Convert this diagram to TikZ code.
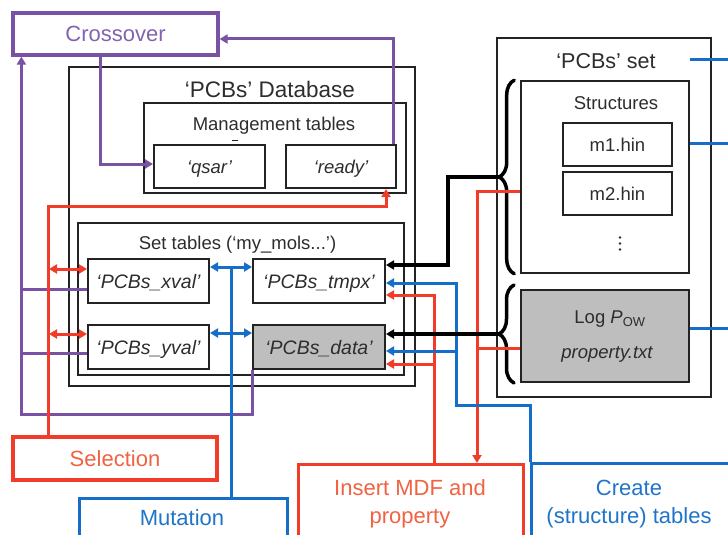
\documentclass[tikz,border=0pt]{standalone}
\usepackage{fontspec}
\setmainfont{Liberation Sans}
\usepackage{tikz}
\usetikzlibrary{arrows.meta}
\usetikzlibrary{decorations.pathreplacing}
\definecolor{purpleline}{RGB}{122,82,163}
\definecolor{purpletext}{RGB}{130,98,178}
\definecolor{redline}{RGB}{240,60,40}
\definecolor{redtext}{RGB}{240,98,66}
\definecolor{blueline}{RGB}{22,110,200}
\definecolor{bluetext}{RGB}{32,116,200}
\definecolor{boxline}{RGB}{35,35,35}
\definecolor{inkgray}{RGB}{45,45,45}
\definecolor{tablegray}{RGB}{190,190,190}
\newcommand{\procfont}{\fontsize{22}{28}\selectfont}
\newcommand{\tblfont}{\fontsize{19.5}{23}\selectfont}
\newcommand{\labfont}{\fontsize{18.5}{22}\selectfont}

\begin{document}
\begin{tikzpicture}[x=1pt, y=-1pt,
    >={Triangle[length=8pt,width=9pt]},
    box/.style={draw=boxline, line width=1.6pt, inner sep=0pt},
    tbl/.style={box, line width=2pt, text=inkgray, text height=14pt, text depth=0pt, font=\tblfont\itshape},
    proc/.style={line width=3.2pt, inner sep=0pt, font=\procfont, text height=15.8pt, text depth=0pt},
    title/.style={anchor=base, inner sep=0pt, text=inkgray, font=\labfont},
    purple link/.style={draw=purpleline, line width=3pt},
    red link/.style={draw=redline, line width=3pt},
    blue link/.style={draw=blueline, line width=3pt},
    black link/.style={draw=black, line width=4pt}]
    \path[use as bounding box, clip] (0,0) rectangle (728,535);

    % Database
    \node[box, minimum width=346pt, minimum height=319pt] (db) at (242,226.5) {};
    \node[title, font=\fontsize{22.5}{27}\selectfont] (dbtitle) at (270,97) {‘PCBs’ Database};
    \node[box, minimum width=262pt, minimum height=90pt] (mgmt) at (275,148) {};
    \node[title] (mgmttitle) at (274,130) {Management tables};
    \draw[boxline, line width=1pt] ([xshift=-42pt,yshift=-10pt]mgmttitle.base) -- ++(6,0);
    \node[tbl, font=\labfont\itshape, minimum width=111pt, minimum height=43pt] (qsar) at (209.5,166.5) {‘qsar’};
    \node[tbl, font=\labfont\itshape, minimum width=110pt, minimum height=43pt] (ready) at (341,166.5) {‘ready’};
    \node[box, minimum width=326pt, minimum height=152pt] (sets) at (241,299) {};
    \node[title] (setstitle) at (237.5,249) {Set tables (‘my\_mols...’)};
    \node[tbl, minimum width=121pt, minimum height=44pt] (xval) at (148.5,281) {‘PCBs\_xval’};
    \node[tbl, minimum width=121pt, minimum height=44pt] (yval) at (148.5,347) {‘PCBs\_yval’};
    \node[tbl, minimum width=132pt, minimum height=44pt] (tmpx) at (319,281) {‘PCBs\_tmpx’};
    \node[tbl, fill=tablegray, minimum width=132pt, minimum height=44pt] (data) at (319,347) {‘PCBs\_data’};

    % 'PCBs' set
    \node[box, minimum width=214pt, minimum height=359pt] (pset) at (604,217.5) {};
    \node[title, font=\fontsize{21.5}{26}\selectfont] (psettitle) at (606,68) {‘PCBs’ set};
    \node[box, minimum width=168pt, minimum height=192pt] (struct) at (605,177) {};
    \node[title] (structtitle) at (616,109) {Structures};
    \node[tbl, font=\labfont, minimum width=109pt, minimum height=43pt] (m1) at (617.5,144.5) {m1.hin};
    \node[tbl, font=\labfont, minimum width=109pt, minimum height=43pt] (m2) at (617.5,193) {m2.hin};
    \foreach \dy in {0,6,12}
        \fill[inkgray] ([yshift=-\dy pt]m2.south) ++(2.5,22) circle (1.4pt);
    \node[box, line width=2pt, fill=tablegray, minimum width=168pt, minimum height=92pt] (logp) at (605,336) {};
    \node[title] (logtitle) at (610,323) {Log \textit{P}\textsubscript{OW}};
    \node[title, font=\labfont\itshape] (proptitle) at (607,358) {property.txt};

    % Braces
    \draw[black link, line width=3.5pt, line cap=round, decorate, decoration={brace, amplitude=15pt}]
        ([xshift=-6pt]struct.south west) -- ([xshift=-6pt]struct.north west);
    \draw[black link, line width=3.5pt, line cap=round, decorate, decoration={brace, amplitude=15pt}]
        ([xshift=-6pt]logp.south west) -- ([xshift=-6pt,yshift=4pt]logp.north west);
    \coordinate (brS) at ([xshift=-21pt]struct.west);
    \coordinate (brL) at ([xshift=-21pt,yshift=2pt]logp.west);

    % Operations
    \node[proc, draw=purpleline, text=purpletext, minimum width=205pt, minimum height=42pt] (crossover) at (115.5,34) {Crossover};
    \node[proc, draw=redline, text=redtext, minimum width=204pt, minimum height=43pt] (selection) at (115,458.5) {Selection};
    \node[proc, draw=blueline, minimum width=208pt, minimum height=80pt, anchor=north west] (mutation) at (78,497) {};
    \node[anchor=base, inner sep=0pt, text=bluetext, font=\procfont] (mutationlbl) at (182,525) {Mutation};
    \node[proc, draw=redline, minimum width=225pt, minimum height=100pt, anchor=north west] (insert) at (297,463) {};
    \node[anchor=base, inner sep=0pt, text=redtext, font=\procfont, align=center] (insertlbl) at (410,523) {Insert MDF and\\property};
    \node[proc, draw=blueline, minimum width=215pt, minimum height=100pt, anchor=north west] (create) at (530,462) {};
    \node[anchor=base, inner sep=0pt, text=bluetext, font=\procfont, align=center] (createlbl) at (629,523) {Create\\(structure) tables};

    % Crossover links
    \draw[purple link, ->] ([xshift=89pt]crossover.south west) |- ([yshift=2.5pt]qsar.west);
    \draw[purple link, ->] ([xshift=-4pt]ready.north east) |- ([yshift=-5pt]crossover.east);
    \draw[purple link, ->] (data.south west) -- ++(0,44) -| ([xshift=10pt]crossover.south west);
    \draw[purple link] ([yshift=-8pt]xval.west) -- ++(-65,0);
    \draw[purple link] ([yshift=-6pt]yval.west) -- ++(-65,0);

    % Selection and insert links
    \draw[red link, ->] ([xshift=37pt]selection.north west) |- ([xshift=-11pt,yshift=-17pt]ready.south east) -- ([xshift=-11pt]ready.south east);
    \draw[red link, <->] ([yshift=12pt]xval.west) -- ++(-38,0);
    \draw[red link, <->] ([yshift=13pt]yval.west) -- ++(-38,0);
    \draw[red link, ->] ([xshift=137pt]insert.north west) |- ([yshift=-14pt]tmpx.east);
    \draw[red link, ->] ([yshift=-17pt]data.east) ++(49,0) -- ([yshift=-17pt]data.east);
    \draw[red link, ->] ([yshift=-14pt]struct.west) -| ([xshift=180pt]insert.north west);
    \draw[red link] ([yshift=-12pt]logp.west) -- ++(-44,0);

    % Mutation and create links
    \draw[blue link] ([xshift=153pt]mutation.north west) -- ++(0,-230);
    \draw[blue link, <->] ([yshift=14pt]xval.east) -- ([yshift=14pt]tmpx.west);
    \draw[blue link, <->] ([yshift=14pt]yval.east) -- ([yshift=14pt]data.west);
    \draw[blue link, ->] (create.north west) -- ++(0,-57) -- ++(-74,0) |- ([yshift=-2pt]tmpx.east);
    \draw[blue link, ->] ([yshift=-4pt]data.east) ++(71,0) -- ([yshift=-4pt]data.east);
    \draw[blue link] ([yshift=117pt]struct.east) -- ++(50,0);
    \draw[blue link] ([yshift=34pt]struct.east) -- ++(50,0);
    \draw[blue link] ([yshift=8pt]logp.east) -- ++(50,0);

    % Set contents into tables
    \draw[black link, ->] (brS) -- ++(-51,0) |- ([yshift=16pt]tmpx.east);
    \draw[black link, ->] (brL) -- ([yshift=13pt]data.east);
\end{tikzpicture}
\end{document}
